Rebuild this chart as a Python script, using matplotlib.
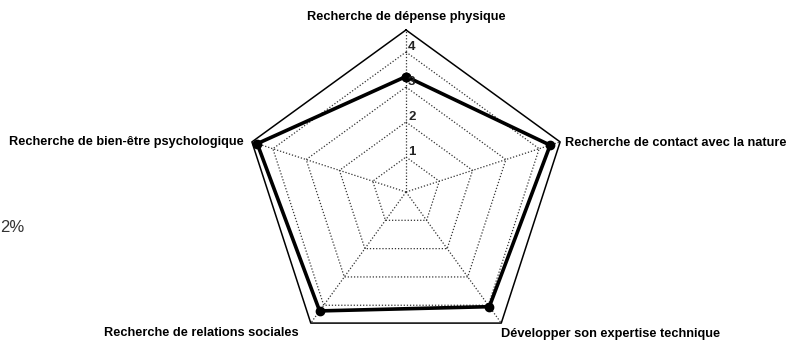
import numpy as np
import matplotlib
matplotlib.use("Agg")
import matplotlib.pyplot as plt

plt.rcParams['font.family'] = ['Liberation Sans', 'DejaVu Sans']

# axes, clockwise from the top
categories = ["Recherche de dépense physique",
              "Recherche de contact avec la nature",
              "Développer son expertise technique",
              "Recherche de relations sociales",
              "Recherche de bien-être psychologique"]
values = [3.3, 4.33, 4.05, 4.2, 4.47]
rings = [1, 2, 3, 4]
ring_labels = ["1", "2", "3", "4"]
r_outer = 4.63

angles = np.radians([90, 18, -54, -126, 162])
closed = np.append(angles, angles[0])

fig = plt.figure(figsize=(7.92, 3.4), dpi=100)
# center at (406, 192) px, 35 px per unit -> rmax 5 = 175 px
ax = fig.add_axes([0.2917, -0.0794, 0.4419, 1.0294], projection='polar')
ax.set_ylim(0, 5)
ax.grid(False)
ax.spines['polar'].set_visible(False)
ax.set_xticks([])
ax.set_yticks([])
ax.patch.set_visible(False)

# dotted rings
for r in rings:
    ax.plot(closed, [r] * len(closed), color='#333333', lw=0.9, ls=(0, (1, 1.5)), clip_on=False)
# dotted spokes
for a in angles:
    ax.plot([a, a], [0, r_outer], color='#333333', lw=0.9, ls=(0, (1, 1.5)), clip_on=False)
# outer frame
ax.plot(closed, [r_outer] * len(closed), color='black', lw=1.1, clip_on=False)

# data
vals = values + values[:1]
ax.plot(closed, vals, color='black', lw=2.6, marker='o', markersize=6, clip_on=False)

# ring labels on the top spoke
for r, lab in zip(rings, ring_labels):
    ax.annotate(lab, xy=(np.pi / 2, r), xytext=(2, 5), textcoords='offset pixels',
                ha='left', va='center', fontsize=9.5, fontweight='bold', color='#222222')

# category labels
offsets = [(0, 13, 'center', 'center'),
           (5, -1, 'left', 'center'),
           (0, -11, 'left', 'center'),
           (-12, -10, 'right', 'center'),
           (-8, 0, 'right', 'center')]
for a, lab, (dx, dy, ha, va) in zip(angles, categories, offsets):
    ax.annotate(lab, xy=(a, r_outer), xytext=(dx, dy), textcoords='offset pixels',
                ha=ha, va=va, fontsize=9.2, fontweight='bold', color='black',
                annotation_clip=False)

fig.text(0, 1 - 228 / 340, "2%", ha='left', va='center', fontsize=12, color='#333333')

fig.savefig("out.png", dpi=100)
